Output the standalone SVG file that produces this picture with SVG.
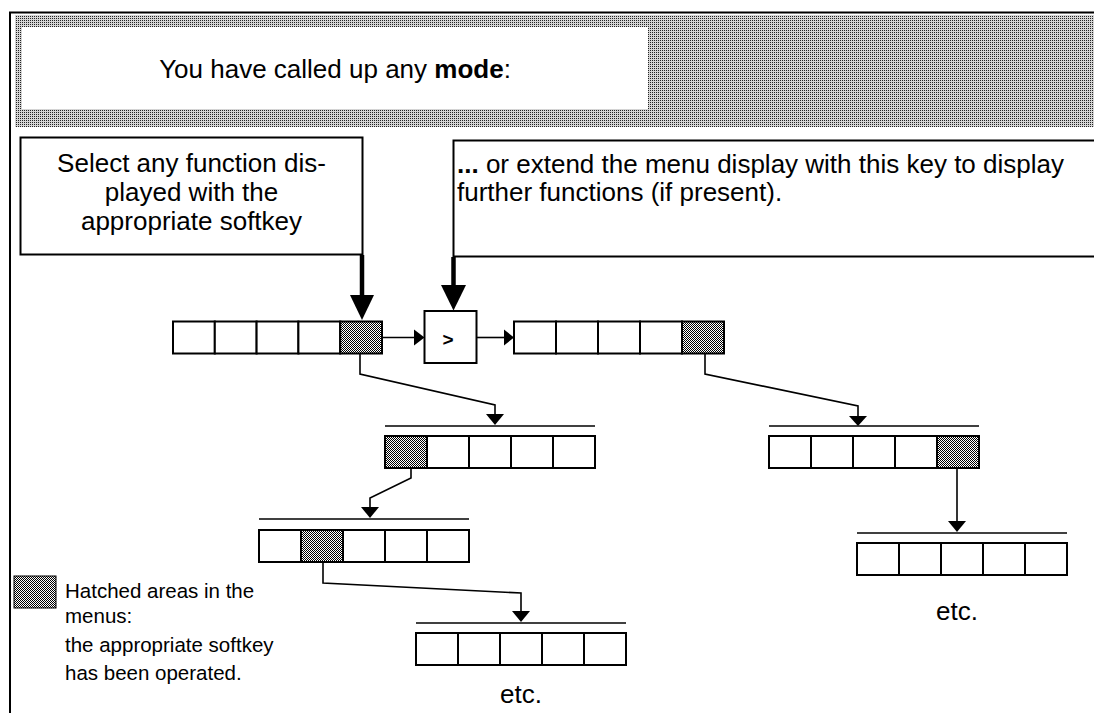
<svg xmlns="http://www.w3.org/2000/svg" width="1094" height="713" viewBox="0 0 1094 713">
<defs>
<pattern id="bandHatch" x="0" y="0" width="2" height="2" patternUnits="userSpaceOnUse">
<rect width="2" height="2" fill="#d4d4d4"/>
<rect width="1" height="1" fill="#222"/>
</pattern>
<pattern id="cellHatch" x="0" y="0" width="2" height="2" patternUnits="userSpaceOnUse">
<rect width="2" height="2" fill="#fff"/>
<rect width="1" height="1" fill="#000"/>
<rect x="1" y="1" width="1" height="1" fill="#000"/>
</pattern>
<style>
.cell{fill:#fff;stroke:#000;stroke-width:2}
.hat{fill:url(#cellHatch);stroke:#000;stroke-width:2}
.rule{stroke:#000;stroke-width:1.6;fill:none}
.conn{fill:none;stroke:#000;stroke-width:1.6}
.big{stroke:#000;stroke-width:4.5;fill:none}
.head{fill:#000;stroke:none}
.box{fill:#fff;stroke:#000;stroke-width:2}
.txt{font-family:"Liberation Sans",Arial,Helvetica,sans-serif;font-size:26px;fill:#000}
.small{font-family:"Liberation Sans",Arial,Helvetica,sans-serif;font-size:20.5px;fill:#000}
</style>
</defs>
<rect width="1094" height="713" fill="#fff"/>

<g id="frame">
<line x1="9" y1="12.5" x2="1094" y2="12.5" stroke="#000" stroke-width="2"/>
<line x1="10" y1="12" x2="10" y2="713" stroke="#000" stroke-width="2"/>
</g>

<g id="banner">
<rect x="15" y="15" width="1079" height="112" fill="url(#bandHatch)"/>
<rect x="22" y="27" width="626" height="82" fill="#fff"/>
<text class="txt" x="335" y="78" text-anchor="middle">You have called up any <tspan font-weight="bold">mode</tspan>:</text>
</g>

<g id="box-select">
<rect class="box" x="20.5" y="137.5" width="342" height="117"/>
<text class="txt" x="191.5" y="172" text-anchor="middle">Select any function dis-</text>
<text class="txt" x="191.5" y="201" text-anchor="middle">played with the</text>
<text class="txt" x="191.5" y="230" text-anchor="middle">appropriate softkey</text>
</g>

<g id="box-extend">
<rect class="box" x="453.5" y="140.5" width="700" height="116"/>
<text class="txt" x="457" y="173"><tspan font-weight="bold">...</tspan> or extend the menu display with this key to display</text>
<text class="txt" x="457" y="201">further functions (if present).</text>
</g>

<g id="menu-a">
<rect class="cell" x="173" y="321.5" width="41.8" height="32"/>
<rect class="cell" x="214.8" y="321.5" width="41.8" height="32"/>
<rect class="cell" x="256.6" y="321.5" width="41.8" height="32"/>
<rect class="cell" x="298.4" y="321.5" width="41.8" height="32"/>
<rect class="hat" x="340.2" y="321.5" width="41.8" height="32"/>
</g>

<g id="key-next">
<rect class="cell" x="424.5" y="311" width="52" height="52"/>
<text x="448" y="346" text-anchor="middle" font-family="Liberation Sans,Arial,sans-serif" font-size="19" font-weight="bold">&gt;</text>
</g>

<g id="menu-b">
<rect class="cell" x="514" y="321.5" width="42" height="32"/>
<rect class="cell" x="556" y="321.5" width="42" height="32"/>
<rect class="cell" x="598" y="321.5" width="42" height="32"/>
<rect class="cell" x="640" y="321.5" width="42" height="32"/>
<rect class="hat" x="682" y="321.5" width="42" height="32"/>
</g>

<g id="menu-c">
<line class="rule" x1="385" y1="426" x2="595" y2="426"/>
<rect class="hat" x="385" y="436" width="42" height="32"/>
<rect class="cell" x="427" y="436" width="42" height="32"/>
<rect class="cell" x="469" y="436" width="42" height="32"/>
<rect class="cell" x="511" y="436" width="42" height="32"/>
<rect class="cell" x="553" y="436" width="42" height="32"/>
</g>

<g id="menu-d">
<line class="rule" x1="259" y1="519" x2="469" y2="519"/>
<rect class="cell" x="259" y="530" width="42" height="32"/>
<rect class="hat" x="301" y="530" width="42" height="32"/>
<rect class="cell" x="343" y="530" width="42" height="32"/>
<rect class="cell" x="385" y="530" width="42" height="32"/>
<rect class="cell" x="427" y="530" width="42" height="32"/>
</g>

<g id="menu-e">
<line class="rule" x1="416" y1="623" x2="626" y2="623"/>
<rect class="cell" x="416" y="633" width="42" height="32"/>
<rect class="cell" x="458" y="633" width="42" height="32"/>
<rect class="cell" x="500" y="633" width="42" height="32"/>
<rect class="cell" x="542" y="633" width="42" height="32"/>
<rect class="cell" x="584" y="633" width="42" height="32"/>
<text class="txt" x="521" y="703" text-anchor="middle">etc.</text>
</g>

<g id="menu-f">
<line class="rule" x1="769" y1="426" x2="979" y2="426"/>
<rect class="cell" x="769" y="436" width="42" height="32"/>
<rect class="cell" x="811" y="436" width="42" height="32"/>
<rect class="cell" x="853" y="436" width="42" height="32"/>
<rect class="cell" x="895" y="436" width="42" height="32"/>
<rect class="hat" x="937" y="436" width="42" height="32"/>
</g>

<g id="menu-g">
<line class="rule" x1="857" y1="533" x2="1067" y2="533"/>
<rect class="cell" x="857" y="543" width="42" height="32"/>
<rect class="cell" x="899" y="543" width="42" height="32"/>
<rect class="cell" x="941" y="543" width="42" height="32"/>
<rect class="cell" x="983" y="543" width="42" height="32"/>
<rect class="cell" x="1025" y="543" width="42" height="32"/>
<text class="txt" x="957" y="620" text-anchor="middle">etc.</text>
</g>

<g id="legend">
<rect x="14" y="576" width="42" height="32" fill="url(#cellHatch)" stroke="#000" stroke-width="1"/>
<text class="small" x="65" y="598">Hatched areas in the</text>
<text class="small" x="65" y="623">menus:</text>
<text class="small" x="65" y="652">the appropriate softkey</text>
<text class="small" x="65" y="680">has been operated.</text>
</g>

<g id="connectors">
<line class="big" x1="362" y1="255" x2="362" y2="297"/>
<polygon class="head" points="350,295 374,295 362,320"/>
<line class="big" x1="453.5" y1="257" x2="453.5" y2="287"/>
<polygon class="head" points="441,285 466,285 453.5,310.5"/>
<line class="conn" x1="382" y1="337.5" x2="415" y2="337.5"/>
<polygon class="head" points="414,329.5 424.5,337.5 414,345.5"/>
<line class="conn" x1="476.5" y1="337.5" x2="505" y2="337.5"/>
<polygon class="head" points="504,329.5 514,337.5 504,345.5"/>
<polyline class="conn" points="360,353.5 360,374 495,405 495,415"/>
<polygon class="head" points="486,414 504,414 495,425"/>
<polyline class="conn" points="705,353.5 705,374 858,406 858,417"/>
<polygon class="head" points="849,416 867,416 858,426"/>
<polyline class="conn" points="411,468 411,478 370,498 370,508"/>
<polygon class="head" points="361,507 379,507 370,518"/>
<polyline class="conn" points="323,562 323,583 521,593 521,612"/>
<polygon class="head" points="512,611 530,611 521,622"/>
<line class="conn" x1="957" y1="468" x2="957" y2="522"/>
<polygon class="head" points="948,521 966,521 957,532"/>
</g>
</svg>
